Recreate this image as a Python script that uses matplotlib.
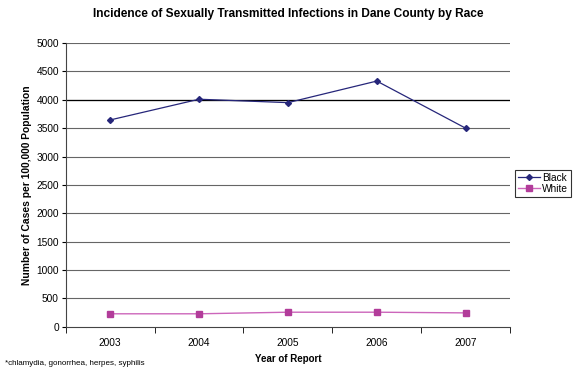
import numpy as np
import matplotlib
matplotlib.use("Agg")
import matplotlib.pyplot as plt

years = ["2003", "2004", "2005", "2006", "2007"]
black = [3645, 4010, 3950, 4330, 3500]
white = [230, 230, 258, 258, 246]

plt.rcParams['font.family'] = ['Liberation Sans', 'DejaVu Sans']

fig = plt.figure(figsize=(5.77, 3.71), dpi=100)
ax = fig.add_axes([0.114, 0.119, 0.77, 0.765])

x = np.arange(len(years))
ax.plot(x, black, color='#26267a', marker='D', markersize=3, linewidth=0.9, label='Black')
ax.plot(x, white, color='#cc66bb', marker='s', markersize=4.5, markerfacecolor='#b23c9a',
        markeredgecolor='#b23c9a', linewidth=1.0, label='White')

ax.set_xlim(-0.5, len(years) - 0.5)
ax.set_ylim(0, 5000)
ax.set_yticks(np.arange(0, 5001, 500))
ax.tick_params(axis='y', labelsize=7.3, length=3, direction='out', pad=2)
ax.set_xticks(x)
ax.set_xticklabels(years)
ax.set_xticks(np.arange(-0.5, len(years), 1), minor=True)
ax.tick_params(axis='x', which='major', length=0, labelsize=7.3, pad=8)
ax.tick_params(axis='x', which='minor', length=4, direction='out')

for v in np.arange(500, 5001, 500):
    ax.axhline(v, color='#666666', linewidth=0.8, zorder=0)
ax.axhline(4000, color='black', linewidth=0.9, zorder=0)

for s in ['top', 'right']:
    ax.spines[s].set_visible(False)
ax.spines['left'].set_color('#444444')
ax.spines['bottom'].set_color('#444444')

ax.set_xlabel('Year of Report', fontsize=7, fontweight='bold', labelpad=4)
ax.set_ylabel('Number of Cases per 100,000 Population', fontsize=7.4, fontweight='bold', labelpad=3)
fig.text(0.5, 0.963, 'Incidence of Sexually Transmitted Infections in Dane County by Race',
         ha='center', va='center', fontsize=8.6, fontweight='bold')
fig.text(0.008, 0.012, '*chlamydia, gonorrhea, herpes, syphilis', fontsize=5.8, ha='left', va='bottom')

leg = ax.legend(loc='center left', bbox_to_anchor=(1.012, 0.505), fontsize=7.3, frameon=True,
                fancybox=False, edgecolor='black', handlelength=2.2, handletextpad=0.2,
                borderpad=0.25, labelspacing=0.1, borderaxespad=0)
leg.get_frame().set_linewidth(0.8)

fig.savefig('out.png', dpi=100)
